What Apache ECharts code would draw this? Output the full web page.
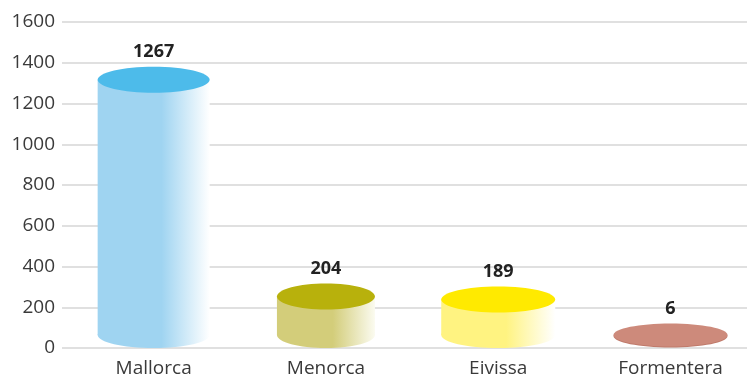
<!DOCTYPE html>
<html>
<head>
<meta charset="utf-8">
<script src="https://cdn.jsdelivr.net/npm/echarts@6/dist/echarts.min.js"></script>
<style>
html,body{margin:0;padding:0;background:#fff;}
#c{width:747px;height:378px;}
</style>
</head>
<body>
<div id="c"></div>
<script>
var categories = ['Mallorca', 'Menorca', 'Eivissa', 'Formentera'];
var values = [1267, 204, 189, 6];
var yTicks = [0, 200, 400, 600, 800, 1000, 1200, 1400, 1600];

// styling per bar (not data)
var barStyles = [
  { top: '#4dbbea', body: '#9fd4f1', end: '#ffffff', base: null, rx: 56 },
  { top: '#b8b10c', body: '#d3cd7a', end: '#fbfbf0', base: null, rx: 49 },
  { top: '#ffea00', body: '#fff381', end: '#ffffff', base: null, rx: 57 },
  { top: '#cd8a7b', body: '#cd8a7b', end: '#cd8a7b', base: '#bf7a6b', rx: 57 }
];

var chart = echarts.init(document.getElementById('c'), null, { renderer: 'canvas' });
var FONT = '"Open Sans", "Liberation Sans", sans-serif';

function renderItem(params, api) {
  var i = api.value(0);
  var v = api.value(1);
  var pTop = api.coord([i, v]);
  var pBase = api.coord([i, 0]);
  var st = barStyles[params.dataIndex];
  var rx = st.rx, ry = 13;
  var cx = pTop[0];
  var topC = pTop[1] - 10;
  var botC = pBase[1] - 13;
  if (topC > botC) topC = botC;
  var grad = new echarts.graphic.LinearGradient(0, 0, 1, 0, [
    { offset: 0, color: st.body },
    { offset: 0.57, color: st.body },
    { offset: 1, color: st.end }
  ]);
  var flat = !!st.base;
  var children = [
    { type: 'ellipse', shape: { cx: cx, cy: flat ? botC + 1 : botC, rx: rx, ry: flat ? 11.5 : ry },
      style: { fill: flat ? st.base : grad } },
    { type: 'rect', shape: { x: cx - rx, y: topC, width: rx * 2, height: Math.max(0, botC - topC) },
      style: { fill: grad } },
    { type: 'ellipse', shape: { cx: cx, cy: flat ? botC : topC, rx: rx, ry: flat ? 11.5 : ry },
      style: { fill: st.top } },
    { type: 'text', style: {
        x: cx, y: (flat ? botC - 11.5 : topC - ry) - 6, text: String(values[params.dataIndex]),
        fill: '#222', font: 'bold 18px ' + FONT, textAlign: 'center', textVerticalAlign: 'bottom' } }
  ];
  return { type: 'group', children: children };
}

var option = {
  animation: false,
  grid: { left: 62, right: 0, top: 22, bottom: 30 },
  xAxis: {
    type: 'value', min: -0.532, max: 3.444,
    splitLine: { show: false }, axisLine: { show: false }, axisTick: { show: false },
    axisLabel: {
      customValues: [0, 1, 2, 3],
      formatter: function (v) { return categories[Math.round(v)]; },
      color: '#3a3a3a', fontSize: 19, fontFamily: FONT, margin: 11
    }
  },
  yAxis: {
    type: 'value', min: 0, max: 1600, interval: 200,
    axisLine: { show: false }, axisTick: { show: false },
    splitLine: { lineStyle: { color: '#d6d6d6', width: 1.5 } },
    axisLabel: { color: '#3a3a3a', fontSize: 19, fontFamily: FONT, margin: 7,
      formatter: function (v) { return yTicks.indexOf(v) >= 0 ? String(v) : ''; } }
  },
  series: [{
    type: 'custom',
    renderItem: renderItem,
    clip: false,
    data: values.map(function (v, i) { return [i, v]; })
  }]
};
chart.setOption(option);
</script>
</body>
</html>
